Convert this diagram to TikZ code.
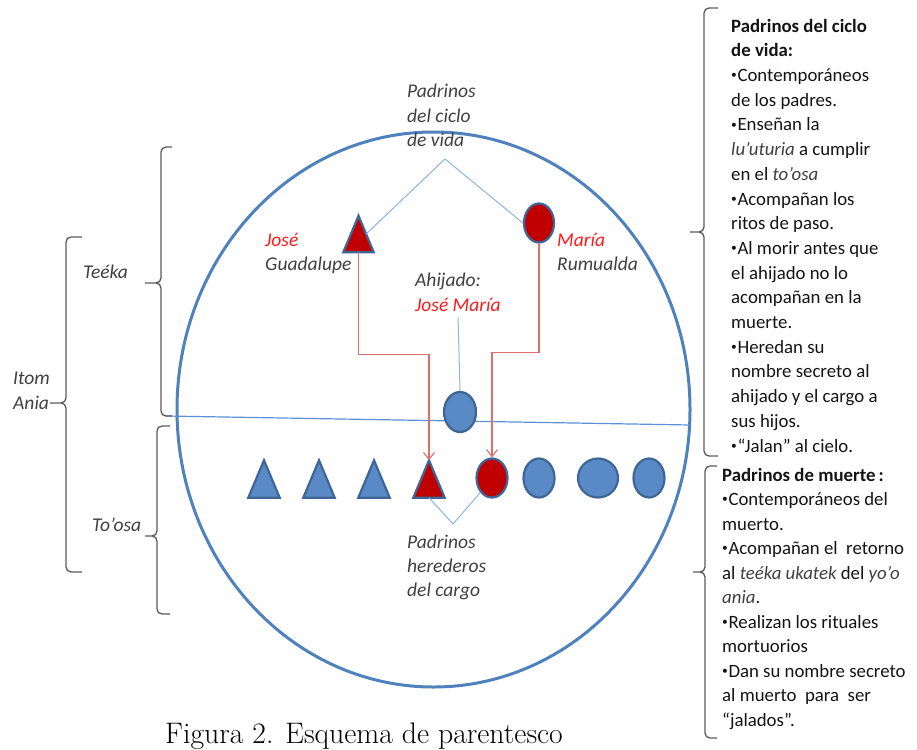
\documentclass[tikz,border=0pt]{standalone}
\usepackage{fontspec}
\newfontfamily\carlito{Carlito}
\usetikzlibrary{shapes.geometric,arrows.meta,calc}

\definecolor{shapeblue}{HTML}{5A8AC6}
\definecolor{shapeedge}{HTML}{3D6697}
\definecolor{ringblue}{HTML}{4F81BD}
\definecolor{thinblue}{HTML}{8DB3E2}
\definecolor{dividerblue}{HTML}{5B8FD6}
\definecolor{kinred}{HTML}{C00000}
\definecolor{arrowred}{HTML}{DE6E6E}
\definecolor{namered}{HTML}{FF1A1A}
\definecolor{labelgray}{HTML}{404040}
\definecolor{bracegray}{HTML}{5A5A5A}
\definecolor{notetext}{HTML}{141414}

% left-opening brace: vertical x, top y, cusp y, bottom y, end x, tip x
\newcommand\kinbrace[6]{%
  \draw[bracestyle] (#5,#2) -- (#1,#2) -- (#1,#3) -- (#6,#3)
                    (#6,#3) -- (#1,#3) -- (#1,#4) -- (#5,#4);}

% small list bullet
\newcommand\kinbul{\raisebox{2.6pt}{\fontsize{11.5}{11.5}\selectfont•}\kern0.6pt}

% multi-line nodes are placed by the baseline of their last line
\tikzset{
  bracestyle/.style={draw=bracegray, line width=1.3pt, rounded corners=5pt},
  oval/.style 2 args={ellipse, draw=shapeedge, line width=2.2pt, fill=shapeblue,
    inner sep=0pt, minimum width=#1, minimum height=#2},
  redoval/.style={fill=kinred},
  tribox/.style 2 args={rectangle, inner sep=0pt, minimum width=#1, minimum height=#2},
  trishape/.style={draw=shapeedge, line width=2.2pt, fill=shapeblue, line join=miter},
  redtri/.style={trishape, fill=kinred},
  vlink/.style={draw=thinblue, line width=1pt},
  redlink/.style={draw=arrowred, line width=1.1pt,
    -{Straight Barb[length=7pt,width=11pt,line width=1.1pt]}},
  label/.style={inner sep=0pt, anchor=base west, align=left, text=labelgray,
    font=\carlito\itshape\fontsize{19.5}{24}\selectfont},
  note/.style={inner sep=0pt, anchor=base west, align=left, text=notetext,
    font=\carlito\fontsize{18.8}{24.7}\selectfont},
}

\begin{document}
\begin{tikzpicture}[x=1pt,y=-1pt]
\useasboundingbox (0,0) rectangle (917,749);

% the community: outer ring and the teéka / to'osa divide
\draw[draw=ringblue, line width=3pt] (433.5,409.5) ellipse [x radius=256.5, y radius=277.5];
\draw[draw=dividerblue, line width=1.2pt] (166,416) -- (690,425);

% godparents of the life cycle
\node[tribox={30pt}{36pt}] (tJ) at (358.5,234) {};
\draw[redtri] (tJ.south west) -- (tJ.north) -- (tJ.south east) -- cycle;
\node[oval={30pt}{39pt}, redoval] (cM) at (539,223) {};

% godchild
\node[oval={32pt}{40pt}] (cA) at (460,412) {};

% bottom row of the to'osa
\node[tribox={31pt}{37pt}] (t1) at (264,479) {};
\node[tribox={31pt}{37pt}] (t2) at (319,479) {};
\node[tribox={31pt}{37pt}] (t3) at (374,479) {};
\node[tribox={31pt}{37pt}] (t4) at (429,479) {};
\foreach \t in {t1,t2,t3}
  \draw[trishape] (\t.south west) -- (\t.north) -- (\t.south east) -- cycle;
\draw[redtri] (t4.south west) -- (t4.north) -- (t4.south east) -- cycle;
\node[oval={31pt}{39pt}, redoval] (c5) at (492,478) {};
\node[oval={31pt}{39pt}] (c6) at (539,478) {};
\node[oval={40pt}{39pt}] (c7) at (598,478) {};
\node[oval={31pt}{39pt}] (c8) at (649,478) {};

% labels
\node[label] (lifeLbl) at (407,146) {Padrinos\\del ciclo\\de vida};
\node[label] (jgLbl) at (265,270) {\textcolor{namered}{José}\\Guadalupe};
\node[label] (mrLbl) at (557,270) {\textcolor{namered}{María}\\Rumualda};
\node[label, font=\carlito\itshape\fontsize{19.5}{25}\selectfont] (ahij) at (415,311)
  {Ahijado:\\\textcolor{namered}{José María}};
\node[label] (heirLbl) at (407,596) {Padrinos\\herederos\\del cargo};
\node[label] (teekaLbl) at (83,278) {Teéka};
\node[label] (toosaLbl) at (92,531) {To’osa};
\node[label, font=\carlito\itshape\fontsize{19.5}{25}\selectfont] (itomLbl) at (13,409) {Itom\\Ania};

% apexes of the godparent links
\coordinate (lifeApex) at (445,159);
\coordinate (heirApex) at (453,524);

\draw[vlink] (lifeApex) -- ($(tJ.north)!0.5!(tJ.south east)$);
\draw[vlink] (lifeApex) -- (cM.west);
\draw[vlink] (heirApex) -- (t4.south);
\draw[vlink] (heirApex) -- (c5.south west);
\draw[vlink, shorten <=6pt] (ahij.south) -- (cA.north);

% inheritance of the office
\draw[redlink] (tJ.south) -- ++(0,102) -| (t4.north);
\draw[redlink] (cM.south) -- ++(0,109) -| (c5.north);

% braces
\kinbrace{161}{147}{283}{416}{172}{145}
\kinbrace{157}{426}{536}{614}{170}{145}
\kinbrace{66}{237}{403}{572}{82}{50}
\kinbrace{704}{8}{232}{456}{718}{690}
\kinbrace{705}{466}{572}{738}{717}{693}

% notes
\node[note] (lifeNote) at (731,452) {%
\textbf{Padrinos del ciclo}\\
\textbf{de vida:}\\
\kinbul Contemporáneos\\
de los padres.\\
\kinbul Enseñan la\\
\textcolor{labelgray}{\itshape lu’uturia} a cumplir\\
en el \textcolor{labelgray}{\itshape to’osa}\\
\kinbul Acompañan los\\
ritos de paso.\\
\kinbul Al morir antes que\\
el ahijado no lo\\
acompañan en la\\
muerte.\\
\kinbul Heredan su\\
nombre secreto al\\
ahijado y el cargo a\\
sus hijos.\\
\kinbul “Jalan” al cielo.};

\node[note, font=\carlito\fontsize{18.8}{24.5}\selectfont] (deathNote) at (722,726) {%
\textbf{Padrinos de muerte\,:}\\
\kinbul Contemporáneos del\\
muerto.\\
\kinbul Acompañan el\ \ retorno\\
al \textcolor{labelgray}{\itshape teéka ukatek} del \textcolor{labelgray}{\itshape yo’o}\\
\textcolor{labelgray}{\itshape ania}.\\
\kinbul Realizan los rituales\\
mortuorios\\
\kinbul Dan su nombre secreto\\
al muerto\ \ para\ \ ser\\
“jalados”.};

% caption
\node[inner sep=0pt, anchor=base west, font=\fontsize{29.7}{30}\selectfont] (caption)
  at (165,743) {Figura 2. Esquema de parentesco};
\end{tikzpicture}
\end{document}
